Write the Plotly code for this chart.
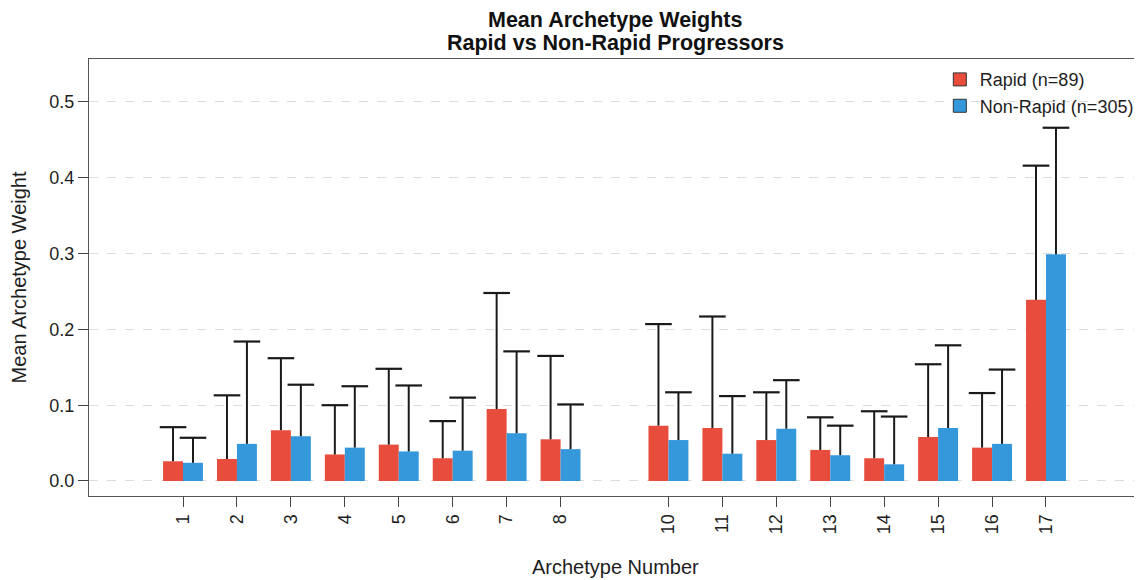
import plotly.graph_objects as go

# Archetype numbers (archetype 9 absent)
archetypes = [1, 2, 3, 4, 5, 6, 7, 8, 10, 11, 12, 13, 14, 15, 16, 17]
tick_labels = [str(a) for a in archetypes]

rapid_mean = [0.026, 0.029, 0.067, 0.035, 0.048, 0.030, 0.095, 0.055,
              0.073, 0.070, 0.054, 0.041, 0.030, 0.058, 0.044, 0.239]
rapid_sd = [0.045, 0.084, 0.095, 0.065, 0.100, 0.049, 0.153, 0.110,
            0.134, 0.147, 0.063, 0.043, 0.062, 0.096, 0.072, 0.177]

nonrapid_mean = [0.024, 0.049, 0.059, 0.044, 0.039, 0.040, 0.063, 0.042,
                 0.054, 0.036, 0.069, 0.034, 0.022, 0.070, 0.049, 0.299]
nonrapid_sd = [0.033, 0.135, 0.068, 0.081, 0.087, 0.070, 0.108, 0.059,
               0.063, 0.076, 0.064, 0.039, 0.063, 0.109, 0.098, 0.167]

y_ticks = [0.0, 0.1, 0.2, 0.3, 0.4, 0.5]

RED = "#E74C3C"
BLUE = "#3498DB"
FONT = "Liberation Sans, Arial, Helvetica, sans-serif"
TXT = "#1e1e1e"

BAR_W = 0.37  # width of each bar (x units); two bars per group

fig = go.Figure()

series = [
    ("Rapid (n=89)", rapid_mean, rapid_sd, RED, -1),
    ("Non-Rapid (n=305)", nonrapid_mean, nonrapid_sd, BLUE, 1),
]

for name, mean, sd, col, side in series:
    fig.add_trace(go.Bar(
        x=archetypes, y=mean, name=name,
        marker=dict(color=col, line=dict(width=0)),
        error_y=dict(type="data", symmetric=False, array=sd,
                     arrayminus=[0] * len(sd),
                     color="#1a1a1a", thickness=2, width=0),
        showlegend=False,
    ))

# caps on top of the error bars only
for name, mean, sd, col, side in series:
    fig.add_trace(go.Scatter(
        x=[a + side * BAR_W / 2 for a in archetypes],
        y=[m + s for m, s in zip(mean, sd)],
        mode="markers", showlegend=False, hoverinfo="skip",
        marker=dict(symbol="line-ew", size=19,
                    line=dict(color="#1a1a1a", width=2.2)),
    ))

# legend entries (square swatches with dark border)
for name, mean, sd, col, side in series:
    fig.add_trace(go.Scatter(
        x=[None], y=[None], mode="markers", name=name,
        marker=dict(symbol="square", size=13, color=col,
                    line=dict(color="#333333", width=1)),
    ))

fig.update_layout(
    width=1134, height=572,
    margin=dict(l=81, r=0, t=51, b=84, autoexpand=False),
    paper_bgcolor="white", plot_bgcolor="white",
    barmode="group", bargap=0.26, bargroupgap=0,
    font=dict(family=FONT, color=TXT),
    legend=dict(
        x=0.808, xanchor="left", y=0.995, yanchor="top",
        bgcolor="rgba(0,0,0,0)", borderwidth=0,
        font=dict(size=18, color=TXT),
        tracegroupgap=0,
    ),
    showlegend=True,
)

fig.update_xaxes(
    range=[-0.743, 18.78],
    tickmode="array", tickvals=archetypes, ticktext=tick_labels,
    tickangle=-90, ticks="outside", ticklen=10, tickcolor="#444444",
    tickfont=dict(size=18, color=TXT),
    showline=True, linecolor="#555555", linewidth=1.3, mirror=True,
    showgrid=False, zeroline=False,
)
fig.update_yaxes(
    range=[-0.0198, 0.5567],
    tickmode="array", tickvals=y_ticks, tickformat=".1f",
    ticks="outside", ticklen=10, tickcolor="#444444",
    tickfont=dict(size=18, color=TXT),
    showline=True, linecolor="#555555", linewidth=1.3, mirror=False,
    showgrid=True, gridcolor="#dcdcdc", gridwidth=1, griddash="dash",
    zeroline=False,
)

# two-line bold title
fig.add_annotation(
    text="<b>Mean Archetype Weights</b>", xref="paper", yref="paper",
    x=0.5, y=1.0892, xanchor="center", yanchor="middle", showarrow=False,
    height=24, valign="middle", borderpad=0,
    font=dict(size=21.5, color="#111111"),
)
fig.add_annotation(
    text="<b>Rapid vs Non-Rapid Progressors</b>", xref="paper", yref="paper",
    x=0.5, y=1.0366, xanchor="center", yanchor="middle", showarrow=False,
    height=28, valign="middle", borderpad=0,
    font=dict(size=21.5, color="#111111"),
)
fig.add_annotation(
    text="Archetype Number", xref="paper", yref="paper",
    x=0.5, y=-0.1625, yanchor="middle", xanchor="center", showarrow=False,
    font=dict(size=20, color=TXT),
)
fig.add_annotation(
    text="Mean Archetype Weight", xref="paper", yref="paper",
    x=-0.0665, y=0.5, xanchor="center", yanchor="middle", textangle=-90,
    showarrow=False, font=dict(size=20, color=TXT),
)

fig.write_html("out.html")
